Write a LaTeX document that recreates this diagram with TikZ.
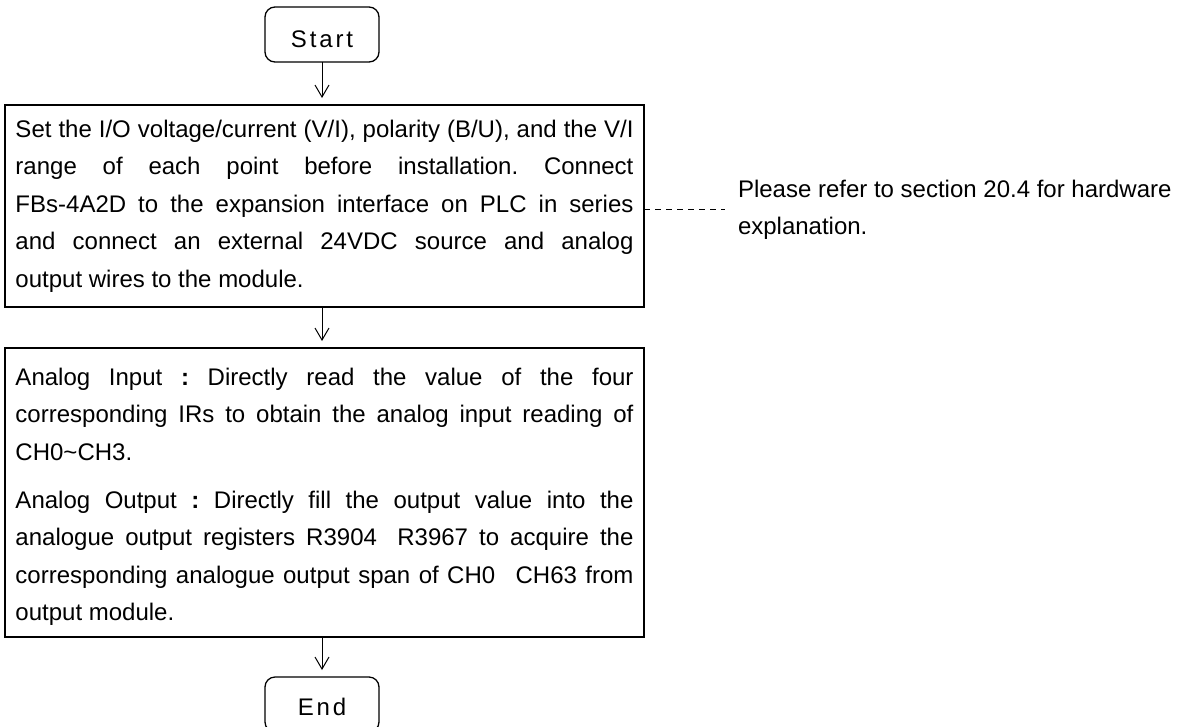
\documentclass[tikz,border=0pt]{standalone}
\usepackage{fontspec}
\setmainfont{Liberation Sans}
\newfontfamily\spacedfont[LetterSpace=12]{Liberation Sans}
\usetikzlibrary{arrows.meta}
\newcommand\flowfont{\fontsize{24pt}{37.5pt}\selectfont}
\newcommand\justset{\flowfont\frenchspacing\tolerance=10000\hbadness=10000\hyphenpenalty=10000\exhyphenpenalty=10000}
\tikzset{
  procbox/.style={draw, line width=2pt, inner xsep=10.5pt, inner ysep=0pt, outer sep=0pt, anchor=north},
  termbox/.style={draw, line width=1.3pt, rounded corners=10pt, minimum width=114pt,
                  minimum height=55pt, inner sep=0pt, outer sep=0pt, text depth=0pt,
                  font=\flowfont\spacedfont},
  flowarrow/.style={line width=1pt, -{Straight Barb[length=12pt,width=14pt,line width=1pt]}, shorten >=7pt},
  notelink/.style={line width=1pt, dash pattern=on 6pt off 5pt, shorten >=13pt},
  notetext/.style={inner sep=0pt, outer sep=0pt, anchor=base west}
}
\begin{document}
\begin{tikzpicture}[x=1pt,y=-1pt]
\useasboundingbox (0,0) rectangle (1180,726);

\node[termbox, text height=25pt] (start) at (322,34.5) {Start};

\node[procbox] (b1) at (324.5,105) {\parbox[t]{618pt}{\justset\rule{0pt}{32pt}Set the I/O voltage/current (V/I), polarity (B/U), and the V/I\linebreak
range of each point before installation. Connect\linebreak
FBs-4A2D to the expansion interface on PLC in series\linebreak
and connect an external 24VDC source and analog\linebreak
output wires to the module.\rule[-20pt]{0pt}{20pt}}};

\node[procbox] (b2) at (324.5,348) {\parbox[t]{618pt}{\justset\rule{0pt}{37pt}Analog Input \textbf{:} Directly read the value of the four\linebreak
corresponding IRs to obtain the analog input reading of\linebreak
CH0\textasciitilde CH3.\par\vspace{10.5pt}
Analog Output \textbf{:} Directly fill the output value into the\linebreak
analogue output registers R3904\hspace{0.85em}R3967 to acquire the\linebreak
corresponding analogue output span of CH0\hspace{0.85em}CH63 from\linebreak
output module.\rule[-16.5pt]{0pt}{16.5pt}}};

\node[termbox, text height=21pt] (endnode) at (322,704.5) {End};

\node[notetext] (note) at (738,197) {\parbox[t]{440pt}{\flowfont Please refer to section 20.4 for hardware\\explanation.}};

\draw[flowarrow] (start.south) -- (start.south |- b1.north);
\draw[flowarrow] (start.south |- b1.south) -- (start.south |- b2.north);
\draw[flowarrow] (start.south |- b2.south) -- (endnode.north);
\draw[notelink] (b1.east |- note.west) -- (note.west);
\end{tikzpicture}
\end{document}
